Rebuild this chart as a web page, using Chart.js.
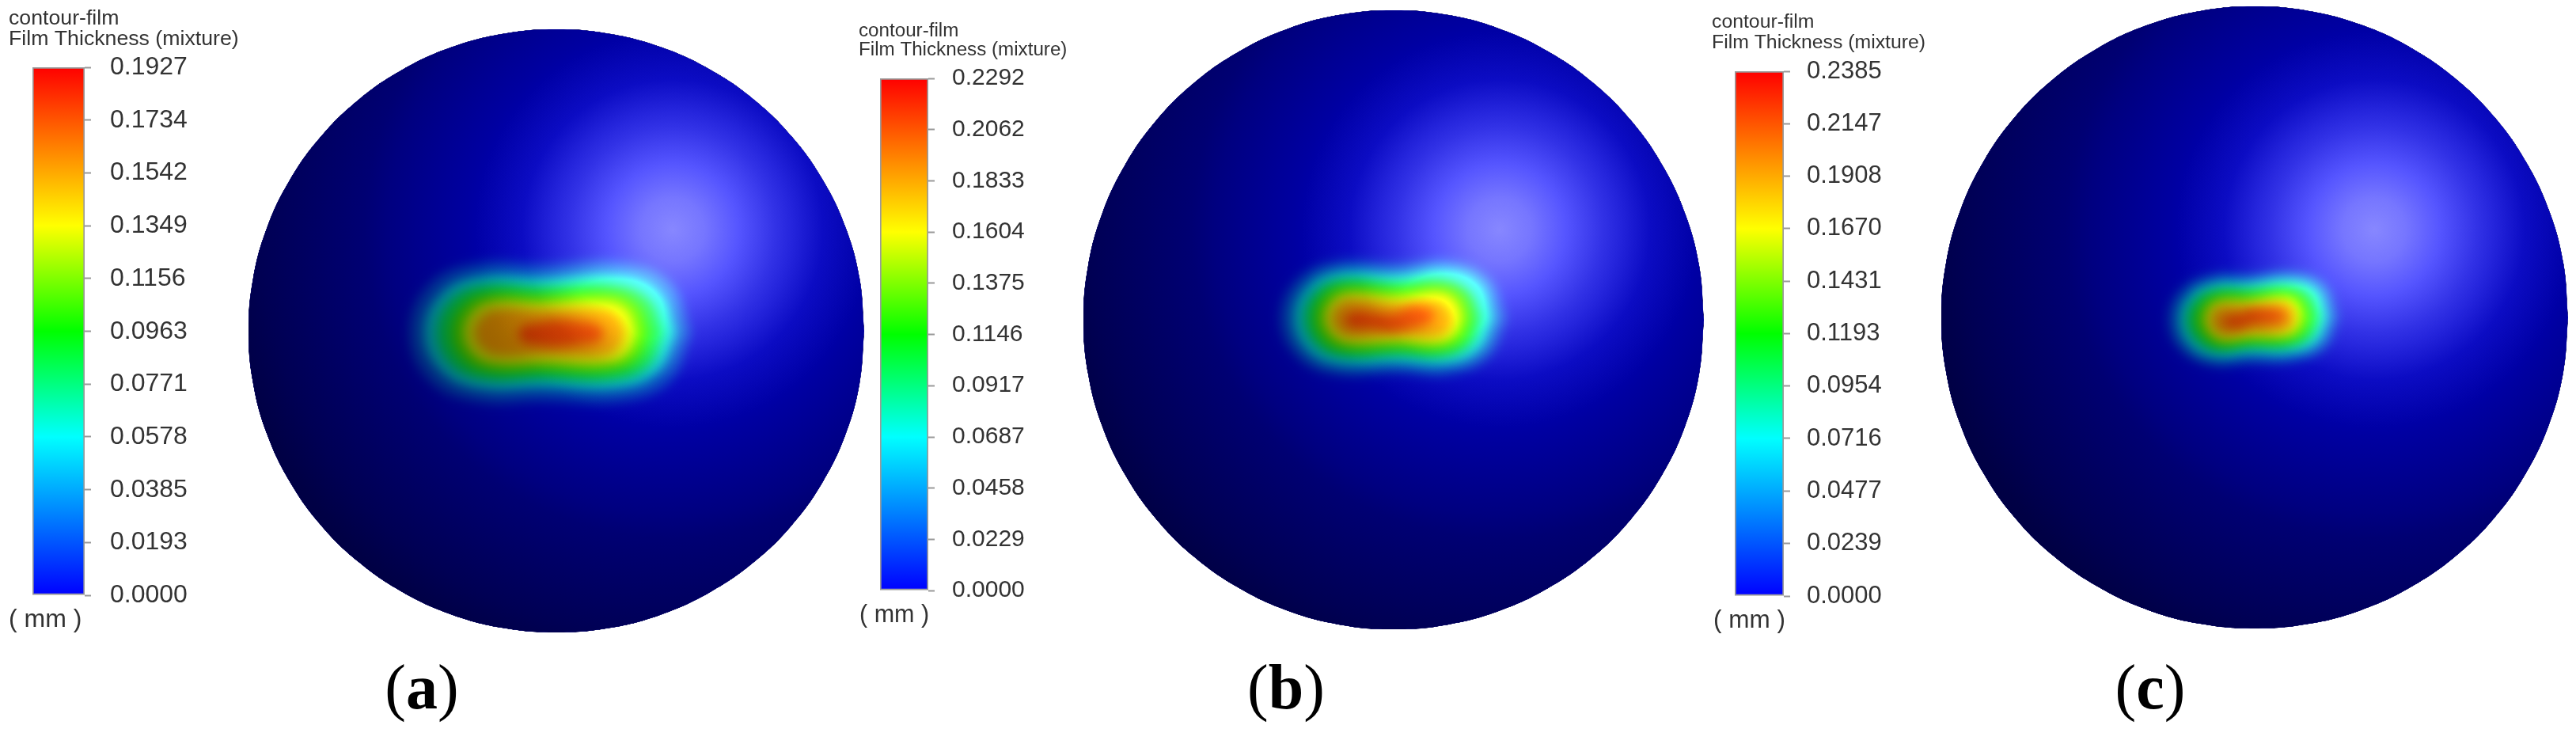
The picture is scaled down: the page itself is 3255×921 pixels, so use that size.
<!DOCTYPE html>
<html>
<head>
<meta charset="utf-8">
<title>contour-film</title>
<script src="https://cdn.jsdelivr.net/npm/chart.js@4/dist/chart.umd.js"></script>
<style>
  html, body { margin: 0; background: #fff; width: 3255px; height: 921px; overflow: hidden; }
  canvas { position: absolute; }
  canvas.bar { filter: blur(0.5px); }
</style>
</head>
<body>
<script>
const titleLines = ['contour-film', 'Film Thickness (mixture)'];
const unitLabel = '( mm )';
const captions = ['a', 'b', 'c'];

// colour bar ticks (mm)
const ticksA = [0.0000, 0.0193, 0.0385, 0.0578, 0.0771, 0.0963, 0.1156, 0.1349, 0.1542, 0.1734, 0.1927];
const ticksB = [0.0000, 0.0229, 0.0458, 0.0687, 0.0917, 0.1146, 0.1375, 0.1604, 0.1833, 0.2062, 0.2292];
const ticksC = [0.0000, 0.0239, 0.0477, 0.0716, 0.0954, 0.1193, 0.1431, 0.1670, 0.1908, 0.2147, 0.2385];

// film thickness contours, outermost first (mm)
const levelsA = [0.019, 0.052, 0.081, 0.106, 0.131, 0.156, 0.178];
const levelsB = [0.023, 0.062, 0.096, 0.126, 0.156, 0.186, 0.212];
const levelsC = [0.024, 0.064, 0.100, 0.131, 0.162, 0.194, 0.220];

// contour outlines, offset from the film patch origin, y up
const ringsA = [
  [[170,-2],[144,60],[82,86],[-18,84],[-98,86],[-160,60],[-186,-2],[-160,-64],[-98,-90],[-18,-89],[82,-90],[144,-64],[170,-2]],
  [[152,-2],[130,48],[80,70],[-18,68],[-96,70],[-146,48],[-168,-2],[-146,-52],[-96,-74],[-18,-73],[80,-74],[130,-52],[152,-2]],
  [[135,-2],[117,40],[75,58],[-18,56],[-91,58],[-133,40],[-151,-2],[-133,-44],[-91,-62],[-18,-61],[75,-62],[117,-44],[135,-2]],
  [[118,-2],[103,33],[68,48],[-18,46],[-84,48],[-119,33],[-134,-2],[-119,-37],[-84,-52],[-18,-51],[68,-52],[103,-37],[118,-2]],
  [[102,-2],[90,26],[62,38],[-18,36],[-78,38],[-106,26],[-118,-2],[-106,-30],[-78,-42],[-18,-41],[62,-42],[90,-30],[102,-2]],
  [[87,-2],[78,18],[58,27],[-18,26],[-74,27],[-94,18],[-103,-2],[-94,-22],[-74,-31],[-18,-30],[58,-31],[78,-22],[87,-2]],
  [[62,-4],[52,8],[30,12],[5,14],[-25,10],[-42,6],[-48,-4],[-42,-14],[-25,-18],[5,-20],[30,-17],[52,-14],[62,-4]]
];
const ringsB = [
  [[146,2],[124,52],[74,74],[10,71],[-68,74],[-118,52],[-140,2],[-118,-48],[-68,-70],[10,-68],[74,-70],[124,-48],[146,2]],
  [[130,2],[112,44],[70,62],[10,58],[-64,62],[-106,44],[-124,2],[-106,-40],[-64,-58],[10,-56],[70,-58],[112,-40],[130,2]],
  [[115,2],[100,36],[66,51],[10,47],[-60,51],[-94,36],[-109,2],[-94,-32],[-60,-47],[10,-45],[66,-47],[100,-32],[115,2]],
  [[103,2],[91,31],[62,43],[10,39],[-56,43],[-85,31],[-97,2],[-85,-27],[-56,-39],[10,-37],[62,-39],[91,-27],[103,2]],
  [[91,2],[81,24],[59,34],[10,30],[-53,34],[-75,24],[-85,2],[-75,-20],[-53,-30],[10,-28],[59,-30],[81,-20],[91,2]],
  [[79,2],[72,18],[56,25],[10,20],[-50,25],[-66,18],[-73,2],[-66,-14],[-50,-21],[10,-19],[56,-21],[72,-14],[79,2]],
  [[58,8],[45,15],[25,16],[5,8],[-20,8],[-38,11],[-52,8],[-58,-1],[-48,-10],[-25,-11],[5,-14],[30,-10],[50,-3],[58,8]]
];
const ringsC = [
  [[105,0],[88,42],[47,58],[-8,55],[-53,55],[-94,37],[-111,-3],[-94,-43],[-53,-62],[-8,-59],[47,-57],[88,-40],[105,0]],
  [[92,0],[78,35],[44,48],[-8,45],[-50,45],[-84,30],[-98,-3],[-84,-37],[-50,-52],[-8,-48],[44,-47],[78,-33],[92,0]],
  [[81,0],[69,28],[42,39],[-8,36],[-48,36],[-75,24],[-87,-3],[-75,-30],[-48,-43],[-8,-39],[42,-38],[69,-26],[81,0]],
  [[70,0],[60,23],[38,32],[-8,29],[-44,29],[-66,19],[-76,-3],[-66,-25],[-44,-36],[-8,-32],[38,-31],[60,-21],[70,0]],
  [[59,0],[51,19],[34,25],[-8,21],[-40,21],[-57,15],[-65,-3],[-57,-21],[-40,-29],[-8,-25],[34,-24],[51,-17],[59,0]],
  [[49,0],[44,14],[31,18],[-8,14],[-37,14],[-50,10],[-55,-3],[-50,-16],[-37,-22],[-8,-18],[31,-17],[44,-12],[49,0]],
  [[40,2],[30,9],[12,10],[-5,10],[-15,5],[-30,3],[-42,-4],[-36,-11],[-20,-13],[-5,-8],[15,-7],[32,-5],[40,2]]
];

// sphere outline on the unit circle
const outlineX = [1,0.985,0.94,0.866,0.766,0.643,0.5,0.342,0.174,0,-0.174,-0.342,-0.5,-0.643,-0.766,-0.866,-0.94,-0.985,-1,-0.985,-0.94,-0.866,-0.766,-0.643,-0.5,-0.342,-0.174,0,0.174,0.342,0.5,0.643,0.766,0.866,0.94,0.985,1];
const outlineY = [0,0.174,0.342,0.5,0.643,0.766,0.866,0.94,0.985,1,0.985,0.94,0.866,0.766,0.643,0.5,0.342,0.174,0,-0.174,-0.342,-0.5,-0.643,-0.766,-0.866,-0.94,-0.985,-1,-0.985,-0.94,-0.866,-0.766,-0.643,-0.5,-0.342,-0.174,0];

// colour map of the legend bars
const mapStops = [0, 0.3, 0.5, 0.7, 1];
const mapColors = [[0, 0, 255], [0, 255, 255], [0, 255, 0], [255, 255, 0], [255, 0, 0]];

// sphere lighting: brightness and highlight against distance from the light spot
const shadeDist = [0, 150, 260, 360, 390, 520, 570, 800];
const shadeGain = [1, 0.82, 0.63, 0.5, 0.45, 0.33, 0.27, 0.2];
const glowDist = [0, 40, 90, 130, 190, 250];
const glowGain = [135, 118, 80, 50, 12, 0];

const panels = [
  { ticks: ticksA, levels: levelsA, rings: ringsA, caption: captions[0], origin: [703, 418],
    box: { left: 0, width: 320 }, bar: { left: 41, width: 66, top: 85, bottom: 752 },
    titleFont: 26.7, titleX: 11, titleY: [31, 57], tickFont: 32, tickGap: 24, unitFont: 32, unitX: 11, unitY: 792,
    sphere: { cx: 703, cy: 418, rx: 389, ry: 381 }, light: [147, 128], capX: 533 },
  { ticks: ticksB, levels: levelsB, rings: ringsB, caption: captions[1], origin: [1757, 404],
    box: { left: 1070, width: 295 }, bar: { left: 1112, width: 61, top: 99, bottom: 746 },
    titleFont: 24.2, titleX: 1085, titleY: [46, 70], tickFont: 30, tickGap: 22, unitFont: 30.5, unitX: 1086, unitY: 786,
    sphere: { cx: 1761, cy: 404, rx: 392, ry: 391 }, light: [138, 114], capX: 1625 },
  { ticks: ticksC, levels: levelsC, rings: ringsC, caption: captions[2], origin: [2850, 401],
    box: { left: 2150, width: 300 }, bar: { left: 2192, width: 62, top: 90, bottom: 753 },
    titleFont: 24.8, titleX: 2163, titleY: [35, 61], tickFont: 31, tickGap: 21, unitFont: 31.5, unitX: 2165, unitY: 793,
    sphere: { cx: 2849, cy: 401, rx: 396, ry: 393 }, light: [150, 111], capX: 2717 }
];

const PAGE_H = 921;
const CAPTION_SIZE = 80;

function colorAt(t) {
  let i = 0;
  while (i < mapStops.length - 2 && t > mapStops[i + 1]) i++;
  const f = (t - mapStops[i]) / (mapStops[i + 1] - mapStops[i]);
  const c = mapColors[i].map((v, k) => Math.round(v + (mapColors[i + 1][k] - v) * f));
  return `rgb(${c[0]},${c[1]},${c[2]})`;
}

function addCanvas(left, top, width, height, cls) {
  const canvas = document.createElement('canvas');
  canvas.width = width;
  canvas.height = height;
  canvas.style.left = left + 'px';
  canvas.style.top = top + 'px';
  canvas.style.width = width + 'px';
  canvas.style.height = height + 'px';
  if (cls) canvas.className = cls;
  document.body.appendChild(canvas);
  return canvas;
}

// Filler paints inside beforeDatasetDraw, so the blur and blend have to be set one step earlier
function applyLayer(chart, index) {
  const ds = chart.data.datasets[index];
  chart.ctx.filter = ds && ds.blurPx ? `blur(${ds.blurPx}px)` : 'none';
  chart.ctx.globalCompositeOperation = (ds && ds.blendMode) || 'source-over';
}

const layerPlugin = {
  id: 'layers',
  beforeDatasetsDraw(chart) { applyLayer(chart, chart.data.datasets.length - 1); },
  afterDatasetDraw(chart, args) { applyLayer(chart, args.index - 1); },
  afterDatasetsDraw(chart) { applyLayer(chart, -1); }
};

const textPlugin = {
  id: 'panelText',
  afterDraw(chart, args, opts) {
    const ctx = chart.ctx;
    ctx.save();
    ctx.textBaseline = 'alphabetic';
    for (const t of opts.items) {
      ctx.font = t.font;
      ctx.fillStyle = t.color;
      ctx.textAlign = t.align || 'left';
      ctx.fillText(t.text, t.x, t.y);
    }
    // caption: plain brackets round a bold letter
    if (opts.caption) {
      const c = opts.caption;
      const plain = `${CAPTION_SIZE}px "Liberation Serif"`;
      const bold = `bold ${CAPTION_SIZE}px "Liberation Serif"`;
      ctx.fillStyle = '#000';
      ctx.textAlign = 'left';
      ctx.font = plain;
      const parenW = ctx.measureText('(').width;
      ctx.font = bold;
      const letterW = ctx.measureText(c.text).width;
      const start = c.x - (parenW * 2 + letterW) / 2;
      ctx.fillText(c.text, start + parenW, c.y);
      ctx.font = plain;
      ctx.fillText('(', start, c.y);
      ctx.fillText(')', start + parenW + letterW, c.y);
    }
    ctx.restore();
  }
};

function barGradient(context) {
  const area = context.chart.chartArea;
  if (!area) return 'blue';
  const g = context.chart.ctx.createLinearGradient(0, area.bottom, 0, area.top);
  mapStops.forEach((s, i) => g.addColorStop(s, colorAt(s)));
  return g;
}

function drawLegend(p) {
  const canvas = addCanvas(p.box.left, 0, p.box.width, PAGE_H, 'bar');
  const textColor = '#333';
  const maxValue = p.ticks[p.ticks.length - 1];
  const barData = {
    labels: ['film'],
    datasets: [{
      label: titleLines[1],
      data: [maxValue],
      backgroundColor: barGradient,
      borderColor: '#9a9a9a',
      borderWidth: 2,
      borderSkipped: false,
      barPercentage: 1,
      categoryPercentage: 1
    }]
  };
  const barConfig = {
    type: 'bar',
    data: barData,
    plugins: [textPlugin],
    options: {
      responsive: false,
      animation: false,
      events: [],
      devicePixelRatio: 1,
      layout: { padding: { left: p.bar.left - p.box.left, top: p.bar.top, right: 0, bottom: PAGE_H - p.bar.bottom } },
      plugins: {
        legend: { display: false },
        tooltip: { enabled: false },
        panelText: {
          items: [
            { text: titleLines[0], x: p.titleX - p.box.left, y: p.titleY[0], font: `${p.titleFont}px "Liberation Sans"`, color: textColor },
            { text: titleLines[1], x: p.titleX - p.box.left, y: p.titleY[1], font: `${p.titleFont}px "Liberation Sans"`, color: textColor },
            { text: unitLabel, x: p.unitX - p.box.left, y: p.unitY, font: `${p.unitFont}px "Liberation Sans"`, color: textColor }
          ]
        }
      },
      scales: {
        x: { display: false },
        y: {
          position: 'right',
          min: 0,
          max: maxValue,
          grid: { drawOnChartArea: false, tickLength: 8, tickColor: '#999', tickWidth: 2 },
          border: { display: false },
          ticks: {
            autoSkip: false,
            padding: p.tickGap,
            color: textColor,
            font: { family: 'Liberation Sans', size: p.tickFont },
            callback: v => v.toFixed(4)
          },
          afterBuildTicks: scale => { scale.ticks = p.ticks.map(v => ({ value: v })); },
          afterFit: scale => {
            scale.width = p.box.left + p.box.width - p.bar.left - p.bar.width;
            scale.paddingTop = 0;
            scale.paddingBottom = 0;
          }
        }
      }
    }
  };
  return new Chart(canvas, barConfig);
}

function radial(chart, p, dist, colorOf) {
  const x = chart.scales.x.getPixelForValue(p.light[0]);
  const y = chart.scales.y.getPixelForValue(p.light[1]);
  if (!isFinite(x) || !isFinite(y)) return 'transparent';
  const last = dist[dist.length - 1];
  const g = chart.ctx.createRadialGradient(x, y, 0, x, y, last);
  dist.forEach((d, i) => g.addColorStop(d / last, colorOf(i)));
  return g;
}

function drawSphere(p) {
  const s = p.sphere;
  const top = s.cy - s.ry;
  const canvas = addCanvas(s.cx - s.rx, top, 2 * s.rx, PAGE_H - top);
  const maxValue = p.ticks[p.ticks.length - 1];
  const outline = outlineX.map((v, i) => ({ x: v, y: outlineY[i] }));
  const shapeStyle = { showLine: true, fill: 'shape', borderWidth: 0, pointRadius: 0, tension: 0.4 };

  const layers = [];
  layers.push({ ...shapeStyle, label: 'sphere', data: outline, xAxisID: 'ux', yAxisID: 'uy', backgroundColor: colorAt(0) });
  p.rings.forEach((ring, i) => {
    layers.push({
      ...shapeStyle,
      label: p.levels[i] + ' mm',
      data: ring.map(pt => ({ x: pt[0], y: pt[1] })),
      backgroundColor: colorAt(p.levels[i] / maxValue),
      blurPx: 7
    });
  });
  layers.push({
    ...shapeStyle, label: 'shade', data: outline, xAxisID: 'ux', yAxisID: 'uy', blendMode: 'multiply',
    backgroundColor: c => radial(c.chart, p, shadeDist, i => {
      const v = Math.round(255 * shadeGain[i]);
      return `rgb(${v},${v},${v})`;
    })
  });
  layers.push({
    ...shapeStyle, label: 'highlight', data: outline, xAxisID: 'ux', yAxisID: 'uy', blendMode: 'lighter',
    backgroundColor: c => radial(c.chart, p, glowDist, i => `rgb(${glowGain[i]},${glowGain[i]},${Math.round(glowGain[i] * 0.3)})`)
  });

  const sphereConfig = {
    type: 'scatter',
    data: { datasets: layers.reverse() },
    plugins: [layerPlugin, textPlugin],
    options: {
      responsive: false,
      animation: false,
      events: [],
      devicePixelRatio: 1,
      layout: { padding: { bottom: PAGE_H - s.cy - s.ry } },
      plugins: {
        legend: { display: false },
        tooltip: { enabled: false },
        panelText: {
          items: [],
          caption: { text: p.caption, x: p.capX - (s.cx - s.rx), y: 895 - top }
        }
      },
      scales: {
        x: { type: 'linear', display: false, min: s.cx - s.rx - p.origin[0], max: s.cx + s.rx - p.origin[0] },
        y: { type: 'linear', display: false, min: p.origin[1] - s.cy - s.ry, max: p.origin[1] - s.cy + s.ry },
        ux: { type: 'linear', axis: 'x', display: false, min: -1, max: 1 },
        uy: { type: 'linear', axis: 'y', display: false, min: -1, max: 1 }
      }
    }
  };
  return new Chart(canvas, sphereConfig);
}

panels.forEach(p => {
  drawSphere(p);
  drawLegend(p);
});
</script>
</body>
</html>
